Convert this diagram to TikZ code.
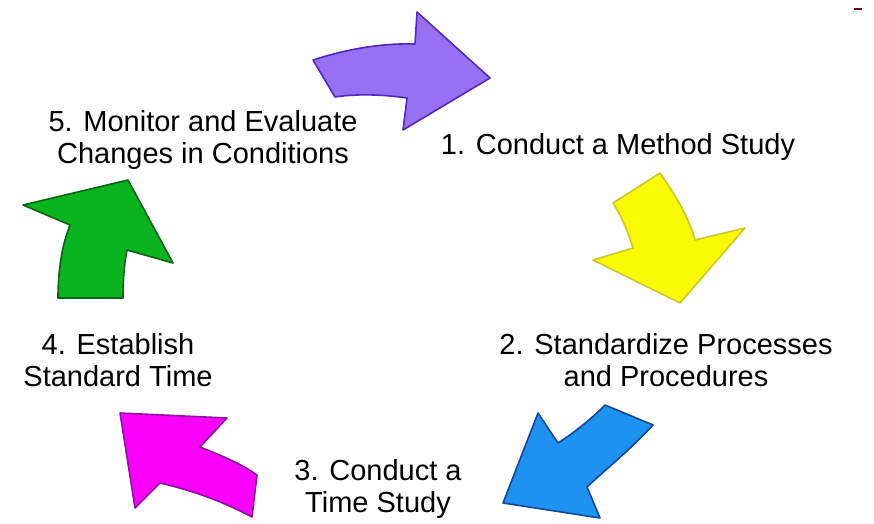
\documentclass[tikz,border=0pt]{standalone}
\usepackage{fontspec}
\setmainfont{Liberation Sans}
\definecolor{pfill}{RGB}{150,112,240}
\definecolor{pline}{RGB}{80,40,190}
\definecolor{yfill}{RGB}{250,250,0}
\definecolor{yline}{RGB}{200,200,40}
\definecolor{bfill}{RGB}{30,146,240}
\definecolor{bline}{RGB}{20,70,150}
\definecolor{mfill}{RGB}{250,0,250}
\definecolor{mline}{RGB}{140,20,160}
\definecolor{gfill}{RGB}{10,180,30}
\definecolor{gline}{RGB}{10,100,20}
\definecolor{dotmark}{RGB}{110,0,60}
\begin{document}
\begin{tikzpicture}[x=1pt,y=-1pt,
    steplabel/.style={align=center,font=\fontsize{29}{32}\selectfont,inner sep=0pt},
    bigarrow/.style={line width=1.6pt,line join=round}]
    \useasboundingbox (0,0) rectangle (874,523);
    % arrows of the cycle
    \draw[bigarrow,fill=pfill,draw=pline] (313,60) .. controls (350,48) and (385,43) .. (415,44) -- (417,12) -- (490,78) -- (403,130) -- (407,98) .. controls (380,94) and (355,94) .. (335,97) -- cycle;
    \draw[bigarrow,fill=yfill,draw=yline] (613,203) -- (660,173) .. controls (675,195) and (688,215) .. (695,240) -- (745,228) -- (680,303) -- (593,260) -- (633,248) .. controls (628,232) and (622,217) .. (613,203) -- cycle;
    \draw[bigarrow,fill=bfill,draw=bline] (605,405) -- (653,425) .. controls (630,450) and (605,470) .. (587,487) -- (600,518) -- (503,503) -- (538,413) -- (558,443) .. controls (575,432) and (590,420) .. (605,405) -- cycle;
    \draw[bigarrow,fill=mfill,draw=mline] (120,413) -- (227,418) -- (200,447) .. controls (220,455) and (240,463) .. (257,475) -- (252,517) .. controls (220,500) and (190,490) .. (160,483) -- (135,508) -- cycle;
    \draw[bigarrow,fill=gfill,draw=gline] (128,180) -- (173,263) -- (127,250) .. controls (124,265) and (123,282) .. (123,298) -- (58,298) .. controls (58,270) and (62,245) .. (70,225) -- (23,205) -- cycle;
    % labels
    \node[steplabel] (monitor) at (203,140) {5. Monitor and Evaluate\\Changes in Conditions};
    \node[steplabel] (method) at (618,147) {1. Conduct a Method Study};
    \node[steplabel] (standard) at (666,360) {2. Standardize Processes\\and Procedures};
    \node[steplabel] (timestudy) at (378,489) {3. Conduct a\\Time Study};
    \node[steplabel] (establish) at (118,360) {4. Establish\\Standard Time};
    % mark in the corner
    \draw[line width=2pt,dotmark] (854,9) -- (862,9);
\end{tikzpicture}
\end{document}
